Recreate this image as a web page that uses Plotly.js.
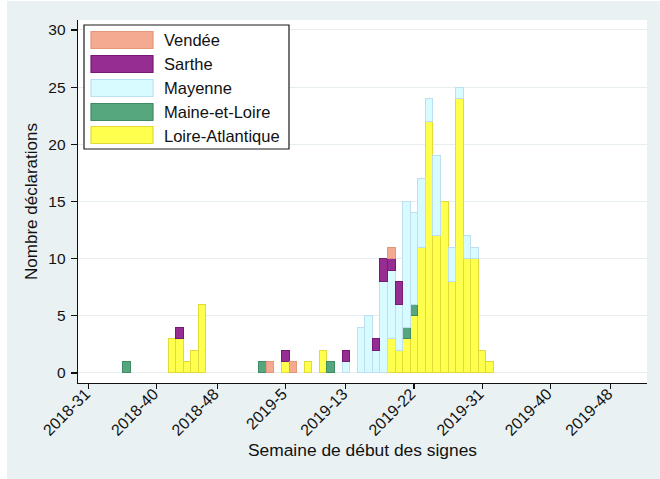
<!DOCTYPE html>
<html>
<head>
<meta charset="utf-8">
<script src="https://cdn.plot.ly/plotly-3.0.1.min.js"></script>
<style>
  html, body { margin: 0; padding: 0; background: #ffffff; width: 660px; height: 479px; overflow: hidden; }
  #chart { position: absolute; left: 7px; top: 1px; width: 653px; height: 478px; }
</style>
</head>
<body>
<div id="chart"></div>
<script>
// ---- data (counts per week of symptom onset) ----
const weeks = ["2018-36","2018-42","2018-43","2018-44","2018-45","2018-46",
  "2019-2","2019-3","2019-5","2019-6","2019-8","2019-10","2019-11","2019-13",
  "2019-15","2019-16","2019-17","2019-18","2019-19","2019-20","2019-21","2019-22",
  "2019-23","2019-24","2019-25","2019-26","2019-27","2019-28","2019-29","2019-30",
  "2019-31","2019-32"];

const loireAtlantique = [null,3,3,1,2,6, null,null,1,null,1,2,null,null,
  null,null,null,null,3,2,3,5, 11,22,12,15,8,24,10,10, 2,1];
const maineEtLoire    = [1,null,null,null,null,null, 1,null,null,null,null,null,1,null,
  null,null,null,null,null,null,1,1, null,null,null,null,null,null,null,null, null,null];
const mayenne         = [null,null,null,null,null,null, null,null,null,null,null,null,null,1,
  4,5,2,8,6,4,11,8, 6,2,7,null,3,1,2,1, null,null];
const sarthe          = [null,null,1,null,null,null, null,null,1,null,null,null,null,1,
  null,null,1,2,1,2,null,null, null,null,null,null,null,null,null,null, null,null];
const vendee          = [null,null,null,null,null,null, null,1,null,1,null,null,null,null,
  null,null,null,null,1,null,null,null, null,null,null,null,null,null,null,null, null,null];

const seriesNames = ["Loire-Atlantique","Maine-et-Loire","Mayenne","Sarthe","Vendée"];
const seriesData  = [loireAtlantique, maineEtLoire, mayenne, sarthe, vendee];

const tickLabels = ["2018-31","2018-40","2018-48","2019-5","2019-13","2019-22","2019-31","2019-40","2019-48"];

// full weekly category axis (Stata weeks: 52 per year)
const allWeeks = [];
for (let w = 31; w <= 52; w++) allWeeks.push("2018-" + w);
for (let w = 1; w <= 52; w++) allWeeks.push("2019-" + w);

// ---- styles ----
const fills = ["#ffff4d", "#56a77d", "#d8fbff", "#952d92", "#f3aa90"];
const lines = ["#e3da3a", "#3f8b63", "#bddff2", "#761a75", "#e39678"];

const traces = seriesNames.map((name, i) => ({
  type: "bar",
  name: name,
  x: weeks,
  y: seriesData[i],
  marker: { color: fills[i], line: { color: lines[i], width: 1 } },
  hoverinfo: "x+y+name"
}));

// plot area in page pixels (div offset 7,1)
const PL = 78, PR = 647, PT = 20, PB = 383;
const px = x => (x - PL) / (PR - PL);
const py = y => (PB - y) / (PB - PT);

// custom legend (large swatches, as in the reference)
const shapes = [];
const annotations = [];
shapes.push({ type: "rect", xref: "paper", yref: "paper",
  x0: px(84), x1: px(289), y0: py(149), y1: py(25),
  fillcolor: "#ffffff", line: { color: "#1a1a1a", width: 1.2 }, layer: "above" });
const rowY = [40, 64, 88, 112, 135];
for (let k = 0; k < 5; k++) {
  const i = 4 - k; // Vendée on top
  shapes.push({ type: "rect", xref: "paper", yref: "paper",
    x0: px(91), x1: px(153), y0: py(rowY[k] + 8.5), y1: py(rowY[k] - 8.5),
    fillcolor: fills[i], line: { color: lines[i], width: 1.2 }, layer: "above" });
  annotations.push({ xref: "paper", yref: "paper", x: px(162), y: py(rowY[k] + 0.5),
    xanchor: "left", yanchor: "middle", showarrow: false, text: seriesNames[i],
    font: { family: "Liberation Sans, Arial, sans-serif", size: 16.5, color: "#111111" } });
}

const layout = {
  width: 653, height: 478,
  margin: { l: PL - 7, r: 660 - PR, t: PT - 1, b: 479 - PB, pad: 0 },
  paper_bgcolor: "#e9f1f3",
  plot_bgcolor: "#ffffff",
  barmode: "stack",
  bargap: 0,
  showlegend: false,
  font: { family: "Liberation Sans, Arial, sans-serif", color: "#111111" },
  xaxis: {
    type: "category",
    categoryorder: "array",
    categoryarray: allWeeks,
    range: [-1.39, 73.78],
    tickmode: "array",
    tickvals: tickLabels,
    ticktext: tickLabels,
    tickangle: -45,
    ticks: "outside", ticklen: 5, tickwidth: 1.2, tickcolor: "#111",
    ticklabelstandoff: -11,
    ticklabelshift: -3,
    tickfont: { size: 16, color: "#111" },
    showline: true, linecolor: "#111", linewidth: 1.3,
    showgrid: false, zeroline: false,
    title: { text: "Semaine de début des signes", font: { size: 17.4, color: "#111" }, standoff: 0 }
  },
  yaxis: {
    range: [-0.875, 30.87],
    tickvals: [0, 5, 10, 15, 20, 25, 30],
    ticks: "outside", ticklen: 6, tickwidth: 1.2, tickcolor: "#111",
    ticklabelstandoff: 2,
    tickfont: { size: 15.5, color: "#111" },
    showline: true, linecolor: "#111", linewidth: 1.3,
    showgrid: true, gridcolor: "#e6eef2", gridwidth: 1,
    zeroline: false,
    title: { text: "Nombre déclarations", font: { size: 17, color: "#111" }, standoff: 6 }
  },
  shapes: shapes,
  annotations: annotations
};

Plotly.newPlot("chart", traces, layout, { displayModeBar: false, staticPlot: true }).then(gd => {
  // place the x-axis title box centre at page y = 454.5, as in the reference
  const g = gd.querySelector(".g-xtitle");
  const txt = g && g.querySelector("text");
  if (txt) {
    const r = txt.getBoundingClientRect();
    const dy = 454.5 - (r.top + r.height / 2);
    g.setAttribute("transform", "translate(0," + dy.toFixed(1) + ")");
  }
});
</script>
</body>
</html>
